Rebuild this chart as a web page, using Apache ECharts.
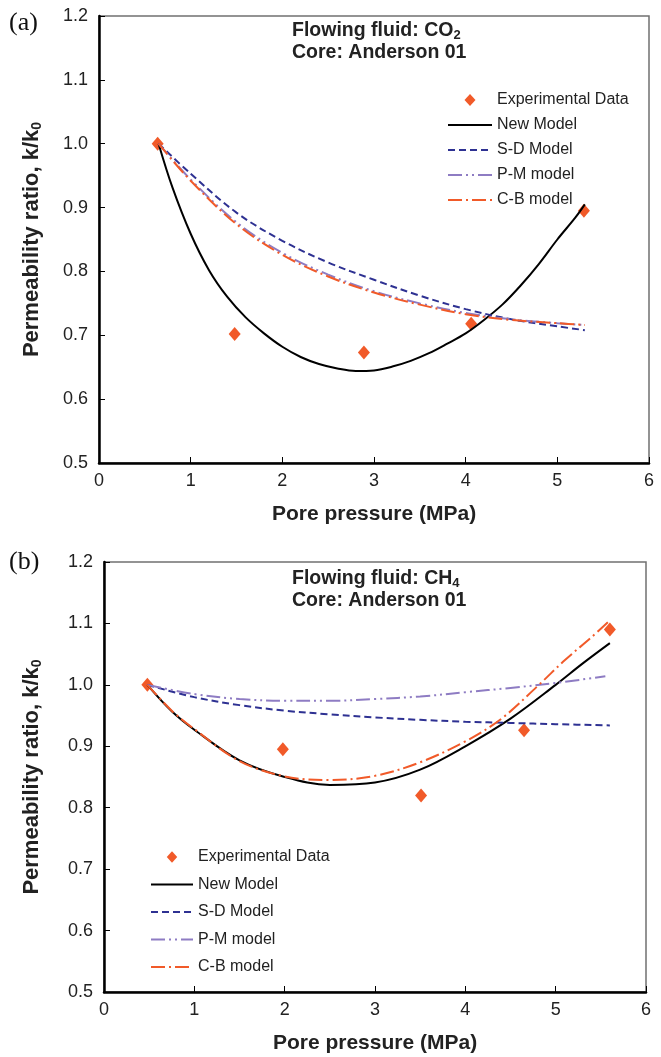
<!DOCTYPE html>
<html><head><meta charset="utf-8">
<script src="https://cdn.jsdelivr.net/npm/echarts@6/dist/echarts.min.js"></script>
<style>html,body{margin:0;padding:0;background:#fff}#c{width:661px;height:1057px}</style>
</head><body><div id="c"></div>
<script>
// ---------- Data: panel (a) CO2 ----------
const aExpX = [0.64, 1.48, 2.89, 4.06, 5.29];
const aExpY = [1.000, 0.702, 0.673, 0.718, 0.895];
const aNewX = [0.65, 0.8, 1.0, 1.2, 1.4, 1.6, 1.8, 2.0, 2.2, 2.4, 2.6, 2.8, 3.0, 3.2, 3.4, 3.6, 3.8, 4.0, 4.2, 4.4, 4.6, 4.8, 5.0, 5.2, 5.3];
const aNewY = [1.000, 0.932, 0.859, 0.802, 0.760, 0.728, 0.703, 0.682, 0.666, 0.655, 0.648, 0.644, 0.645, 0.651, 0.660, 0.672, 0.687, 0.703, 0.724, 0.748, 0.778, 0.812, 0.850, 0.885, 0.905];
const aModX = [0.65, 1.0, 1.5, 2.0, 2.5, 3.0, 3.5, 4.0, 4.5, 5.0, 5.3];
const aSDY  = [1.000, 0.953, 0.892, 0.848, 0.814, 0.787, 0.762, 0.741, 0.725, 0.714, 0.708];
const aPMY  = [1.000, 0.944, 0.877, 0.829, 0.795, 0.769, 0.750, 0.735, 0.725, 0.719, 0.716];
const aCBY  = [1.000, 0.942, 0.874, 0.826, 0.792, 0.767, 0.748, 0.733, 0.724, 0.719, 0.716];

// ---------- Data: panel (b) CH4 ----------
const bExpX = [0.48, 1.98, 3.51, 4.65, 5.60];
const bExpY = [1.000, 0.895, 0.820, 0.926, 1.090];
const bNewX = [0.48, 0.75, 1.0, 1.5, 2.0, 2.5, 3.0, 3.5, 4.0, 4.5, 5.0, 5.3, 5.6];
const bNewY = [1.000, 0.957, 0.927, 0.877, 0.850, 0.837, 0.841, 0.862, 0.900, 0.945, 1.000, 1.035, 1.068];
const bSDX  = [0.48, 1.0, 1.5, 2.0, 2.5, 3.0, 3.5, 4.0, 4.5, 5.0, 5.6];
const bSDY  = [1.000, 0.980, 0.967, 0.958, 0.952, 0.947, 0.943, 0.940, 0.938, 0.936, 0.934];
const bPMX  = [0.48, 1.0, 1.5, 2.0, 2.5, 3.0, 3.5, 4.0, 4.5, 5.0, 5.55];
const bPMY  = [1.000, 0.985, 0.977, 0.974, 0.974, 0.977, 0.981, 0.988, 0.995, 1.003, 1.014];
const bCBX  = [0.48, 0.75, 1.0, 1.5, 2.0, 2.5, 3.0, 3.5, 4.0, 4.4, 4.8, 5.1, 5.4, 5.6];
const bCBY  = [1.000, 0.958, 0.928, 0.876, 0.851, 0.845, 0.852, 0.874, 0.908, 0.945, 0.998, 1.040, 1.078, 1.105];

// ---------- Labels ----------
const seriesNames = ['Experimental Data', 'New Model', 'S-D Model', 'P-M model', 'C-B model'];
const xTitle = 'Pore pressure (MPa)';
const yTitle = 'Permeability ratio, k/k';

const FONT = 'Liberation Sans, Arial, sans-serif';
const C_EXP = '#F15A29', C_SD = '#2E3192', C_PM = '#8E7CC3', C_CB = '#F15A29';
const DIAMOND_ICON = 'path://M0,0L0,0M22,1L27.5,7L22,13L16.5,7ZM44,14L44,14';

function pairs(xs, ys) { return xs.map((x, i) => [x, ys[i]]); }

function lineSeries(name, gi, xs, ys, color, type) {
  return {
    name, type: 'line', xAxisIndex: gi, yAxisIndex: gi,
    data: pairs(xs, ys), symbol: 'none', showSymbol: false, smooth: 0.35,
    lineStyle: { color, width: 2, type }, itemStyle: { color }, z: 3
  };
}
function expSeries(gi, xs, ys) {
  return {
    name: seriesNames[0], type: 'scatter', xAxisIndex: gi, yAxisIndex: gi,
    data: pairs(xs, ys), symbol: 'diamond', symbolSize: [12, 14],
    itemStyle: { color: C_EXP, opacity: 1 }, z: 2
  };
}

function xAxisDef(gi) {
  return {
    gridIndex: gi, type: 'value', min: 0, max: 6, interval: 1,
    name: xTitle, nameLocation: 'middle', nameGap: 41,
    nameTextStyle: { fontFamily: FONT, fontSize: 21, fontWeight: 'bold', color: '#222' },
    axisLine: { show: true, onZero: false, lineStyle: { color: '#000', width: 2.5 } },
    axisTick: { show: true, inside: true, length: 6, lineStyle: { color: '#000', width: 1 } },
    axisLabel: { fontFamily: FONT, fontSize: 18, color: '#222', margin: 9 },
    splitLine: { show: false }
  };
}
function yAxisDef(gi, gap) {
  return {
    gridIndex: gi, type: 'value', min: 0.5, max: 1.2, interval: 0.1,
    name: '{b|' + yTitle + '}{s|0}', nameLocation: 'middle', nameGap: gap,
    nameTextStyle: {
      fontFamily: FONT, fontSize: 22, fontWeight: 'bold', color: '#222',
      rich: {
        b: { fontFamily: FONT, fontSize: 22, fontWeight: 'bold', color: '#222', lineHeight: 24 },
        s: { fontFamily: FONT, fontSize: 14, fontWeight: 'bold', color: '#222', lineHeight: 13, verticalAlign: 'bottom' }
      }
    },
    axisLine: { show: true, onZero: false, lineStyle: { color: '#000', width: 2.5 } },
    axisTick: { show: true, inside: true, length: 6, lineStyle: { color: '#000', width: 1 } },
    axisLabel: { fontFamily: FONT, fontSize: 18, color: '#222', margin: 11, formatter: v => v.toFixed(1) },
    splitLine: { show: false }
  };
}
function legendData() {
  return seriesNames.map((n, i) => i === 0
    ? { name: n, icon: DIAMOND_ICON }
    : { name: n, itemStyle: { opacity: 0, color: 'rgba(0,0,0,0)', borderWidth: 0 } });
}
function legendDef(left, top, width, gap) {
  return {
    orient: 'vertical', left, top, padding: 0, itemWidth: width, itemHeight: 14, itemGap: gap,
    data: legendData(), selectedMode: false,
    textStyle: { fontFamily: FONT, fontSize: 16, color: '#222', lineHeight: 16 }
  };
}
function annot(top, gas, sub) {
  return {
    text: '{b|Flowing fluid: ' + gas + '}{s|' + sub + '}\n{b|Core: Anderson 01}',
    left: 292, top, padding: 0,
    textStyle: {
      rich: {
        b: { fontFamily: FONT, fontSize: 19.5, fontWeight: 'bold', color: '#222', lineHeight: 22 },
        s: { fontFamily: FONT, fontSize: 13, fontWeight: 'bold', color: '#222', lineHeight: 12, verticalAlign: 'bottom' }
      }
    }
  };
}

const option = {
  animation: false,
  backgroundColor: '#fff',
  title: [annot(20, 'CO', '2'), annot(568, 'CH', '4')],
  legend: [legendDef(447, 92, 44, 9), legendDef(150, 849, 42, 11.5)],
  grid: [
    { left: 99, top: 16, width: 550, height: 447, show: true, borderColor: '#707070', borderWidth: 1.5, backgroundColor: 'transparent' },
    { left: 104, top: 562, width: 542, height: 430, show: true, borderColor: '#707070', borderWidth: 1.5, backgroundColor: 'transparent' }
  ],
  xAxis: [xAxisDef(0), xAxisDef(1)],
  yAxis: [yAxisDef(0, 55), yAxisDef(1, 60)],
  graphic: [
    { type: 'text', left: 9, top: 10, style: { text: '(a)', font: '26px "Liberation Serif", "Times New Roman", serif', fill: '#111' } },
    { type: 'text', left: 9, top: 549, style: { text: '(b)', font: '26px "Liberation Serif", "Times New Roman", serif', fill: '#111' } }
  ],
  series: [
    expSeries(0, aExpX, aExpY),
    lineSeries(seriesNames[1], 0, aNewX, aNewY, '#000', 'solid'),
    lineSeries(seriesNames[2], 0, aModX, aSDY, C_SD, [7, 4]),
    lineSeries(seriesNames[3], 0, aModX, aPMY, C_PM, [14, 4, 2, 4, 2, 4]),
    lineSeries(seriesNames[4], 0, aModX, aCBY, C_CB, [14, 4, 2, 4]),
    expSeries(1, bExpX, bExpY),
    lineSeries(seriesNames[1], 1, bNewX, bNewY, '#000', 'solid'),
    lineSeries(seriesNames[2], 1, bSDX, bSDY, C_SD, [7, 4]),
    lineSeries(seriesNames[3], 1, bPMX, bPMY, C_PM, [14, 4, 2, 4, 2, 4]),
    lineSeries(seriesNames[4], 1, bCBX, bCBY, C_CB, [14, 4, 2, 4])
  ]
};
const chart = echarts.init(document.getElementById('c'));
chart.setOption(option);
</script>
</body></html>
